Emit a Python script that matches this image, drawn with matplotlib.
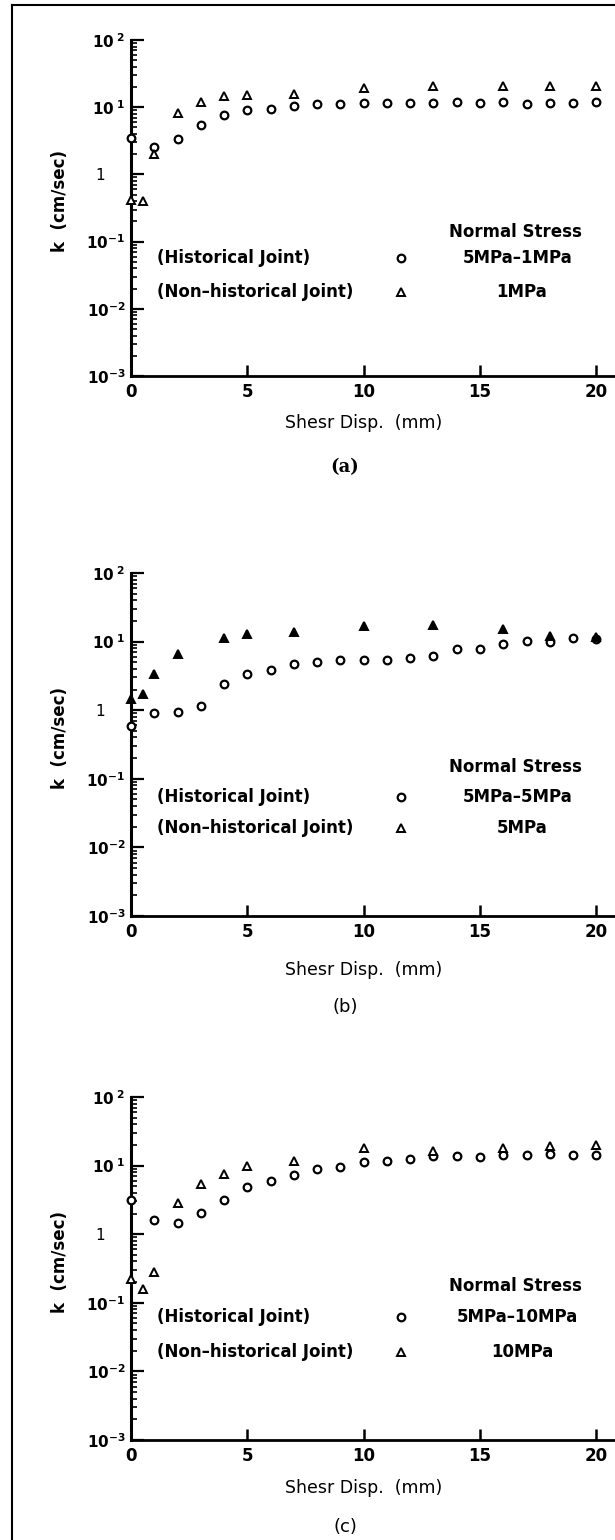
import numpy as np
import matplotlib.pyplot as plt
from matplotlib.lines import Line2D
from matplotlib.ticker import LogLocator, NullFormatter

plt.rcParams['font.family'] = 'DejaVu Sans'
plt.rcParams['mathtext.default'] = 'bf'

# shear displacement (mm) for the historical joint readings
disp = list(range(21))

# (a) normal stress 5MPa-1MPa / 1MPa
hist_a = [3.5, 2.6, 3.4, 5.4, 7.6, 9.0, 9.4, 10.3, 11.2, 11.2, 11.6,
          11.4, 11.6, 11.6, 11.8, 11.4, 11.8, 11.2, 11.6, 11.4, 12.0]
tri_x_a = [0, 0.5, 1, 2, 3, 4, 5, 7, 10, 13, 16, 18, 20]
nonhist_a = [0.42, 0.40, 2.0, 8.2, 11.9, 14.5, 15.2, 15.7, 19.3, 20.9,
             20.9, 20.9, 20.9]

# (b) normal stress 5MPa-5MPa / 5MPa
hist_b = [0.59, 0.9, 0.95, 1.16, 2.45, 3.4, 3.8, 4.7, 5.1, 5.4, 5.4,
          5.4, 5.8, 6.1, 7.7, 7.7, 9.3, 10.2, 9.9, 11.2, 11.0]
tri_x_b = [0, 0.5, 1, 2, 4, 5, 7, 10, 13, 16, 18, 20]
nonhist_b = [1.47, 1.7, 3.4, 6.5, 11.2, 13.1, 14.0, 16.7, 17.4, 15.2,
             12.2, 11.8]

# (c) normal stress 5MPa-10MPa / 10MPa
hist_c = [3.1, 1.6, 1.48, 2.07, 3.2, 4.8, 5.9, 7.3, 8.9, 9.5, 11.2,
          11.8, 12.5, 13.7, 13.7, 13.2, 14.3, 14.3, 14.8, 14.3, 14.5]
tri_x_c = [0, 0.5, 1, 2, 3, 4, 5, 7, 10, 13, 16, 18, 20]
nonhist_c = [0.22, 0.157, 0.28, 2.84, 5.4, 7.55, 10.0, 11.6, 17.9, 16.6,
             18.0, 19.2, 20.0]

stress_hist = ['5MPa\u20131MPa', '5MPa\u20135MPa', '5MPa\u201310MPa']
stress_non = ['1MPa', '5MPa', '10MPa']
panel_tags = ['(a)', '(b)', '(c)']

ytick_vals = [1e-3, 1e-2, 1e-1, 1, 1e1, 1e2]
ytick_text = [r'$10^{-3}$', r'$10^{-2}$', r'$10^{-1}$', '1\u2007\u2007',
              r'$10^{\ 1}$', r'$10^{\ 2}$']
xtick_vals = [0, 5, 10, 15, 20]

W, H = 615, 1540
XMAX = 20.8


def draw_panel(ax, hist, tri_x, nonhist, s_hist, s_non, key_y, tri_fill):
    """One permeability vs shear displacement panel"""
    ax.set_yscale('log')
    ax.set_ylim(1e-3, 1e2)
    ax.set_xlim(0, XMAX)

    ax.plot(disp, hist, ls='none', marker='o', ms=5.5, mew=1.6,
            mfc='white', mec='black', clip_on=False, zorder=3)
    ax.plot(tri_x, nonhist, ls='none', marker='^', ms=6, mew=1.4,
            mfc='black' if tri_fill else 'white', mec='black',
            clip_on=False, zorder=3)

    for s in ['top', 'right']:
        ax.spines[s].set_visible(False)
    ax.spines['left'].set_linewidth(2.2)
    ax.spines['bottom'].set_linewidth(2.0)

    ax.set_yticks(ytick_vals)
    ax.set_yticklabels(ytick_text, fontsize=11)
    ax.yaxis.set_minor_locator(LogLocator(base=10, subs=np.arange(2, 10)))
    ax.yaxis.set_minor_formatter(NullFormatter())
    ax.tick_params(axis='y', which='major', direction='in', length=9,
                   width=1.6, pad=4)
    ax.tick_params(axis='y', which='minor', direction='in', length=4.5,
                   width=1.2)

    ax.set_xticks(xtick_vals)
    ax.set_xticklabels([str(v) for v in xtick_vals], fontsize=12,
                       fontweight='bold')
    ax.tick_params(axis='x', which='major', direction='in', length=8,
                   width=1.8, pad=5)
    ax.tick_params(axis='x', which='minor', bottom=False)

    ax.set_ylabel('k  (cm/sec)', fontsize=12, fontweight='bold')
    ax.yaxis.set_label_coords(-0.128, 0.52)

    # key block
    y_ns, y_h, y_n = key_y
    ax.text(16.5, 10 ** y_ns, 'Normal Stress', ha='center', va='center',
            fontsize=12, fontweight='bold')
    ax.text(1.1, 10 ** y_h, '(Historical Joint)', ha='left', va='center',
            fontsize=12, fontweight='bold')
    ax.text(1.1, 10 ** y_n, '(Non\u2013historical Joint)', ha='left',
            va='center', fontsize=12, fontweight='bold')
    ax.plot([11.6], [10 ** y_h], ls='none', marker='o', ms=5.5, mew=1.6,
            mfc='white', mec='black')
    ax.plot([11.6], [10 ** y_n], ls='none', marker='^', ms=6, mew=1.4,
            mfc='white', mec='black')
    ax.text(16.6, 10 ** y_h, s_hist, ha='center', va='center',
            fontsize=12, fontweight='bold')
    ax.text(16.8, 10 ** y_n, s_non, ha='center', va='center',
            fontsize=12, fontweight='bold')


fig = plt.figure(figsize=(W / 100, H / 100), dpi=100)

# axes frames in pixels: (top of 10^2, bottom of 10^-3)
frames = [(40, 376), (573, 916), (1097, 1440)]
xlabel_y = [423, 970, 1488]
tag_y = [467, 1007, 1527]
key_levels = [(-0.86, -1.25, -1.75), (-0.83, -1.27, -1.72),
              (-0.76, -1.2, -1.72)]
series = [(hist_a, tri_x_a, nonhist_a), (hist_b, tri_x_b, nonhist_b),
          (hist_c, tri_x_c, nonhist_c)]

left = 131
for i, (top, bottom) in enumerate(frames):
    ax = fig.add_axes([left / W, 1 - bottom / H, (W - left) / W,
                       (bottom - top) / H])
    hist, tx, nh = series[i]
    draw_panel(ax, hist, tx, nh, stress_hist[i], stress_non[i],
               key_levels[i], tri_fill=(i == 1))
    xc = left + (W - left) * 10 / XMAX
    fig.text(xc / W, 1 - xlabel_y[i] / H, 'Shesr Disp.  (mm)',
             ha='center', va='center', fontsize=12.5)
    if i == 0:
        fig.text(345 / W, 1 - tag_y[i] / H, panel_tags[i], ha='center',
                 va='center', fontsize=13, fontweight='bold',
                 family='DejaVu Serif')
    else:
        fig.text(345 / W, 1 - tag_y[i] / H, panel_tags[i], ha='center',
                 va='center', fontsize=13)

# outer frame (left and top edges)
fig.add_artist(Line2D([12 / W, 12 / W], [0, 1 - 5 / H], color='black',
                      lw=1.5))
fig.add_artist(Line2D([12 / W, 1], [1 - 5 / H, 1 - 5 / H], color='black',
                      lw=1.5))

fig.savefig('out.png', dpi=100)
